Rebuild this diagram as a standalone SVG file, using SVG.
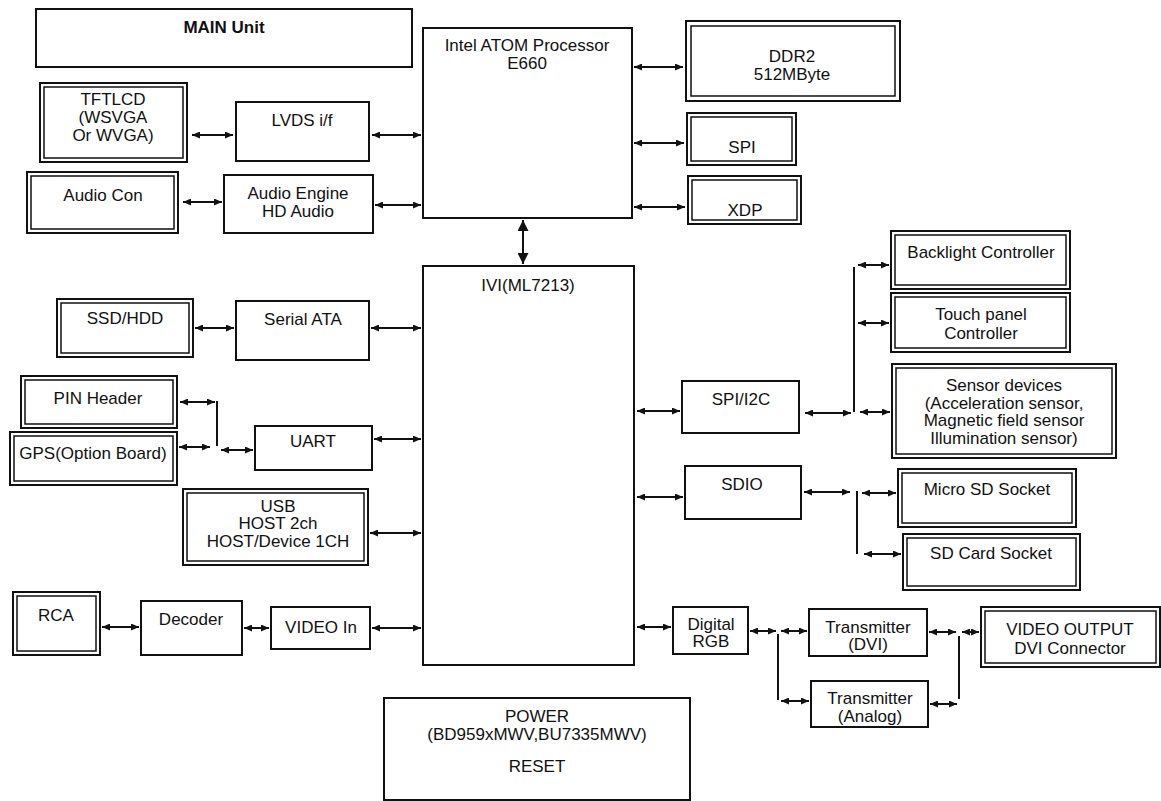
<svg xmlns="http://www.w3.org/2000/svg" width="1161" height="801" viewBox="0 0 1161 801">
<defs>
<style>
.b{fill:#fff;stroke:#111;stroke-width:2}
.i{fill:none;stroke:#111;stroke-width:1.5}
.t{font-family:"Liberation Sans",Arial,sans-serif;font-size:17px;text-anchor:middle;fill:#111}
.c{stroke:#111;stroke-width:2;fill:none}
.a{marker-start:url(#ah);marker-end:url(#ah)}
</style>
<marker id="ah" viewBox="0 0 8 7" refX="8" refY="3.5" markerWidth="8" markerHeight="7" markerUnits="userSpaceOnUse" orient="auto-start-reverse"><path d="M0,0 L8,3.5 L0,7 z" fill="#111"/></marker>
<marker id="ahb" viewBox="0 0 10 10" refX="10" refY="5" markerWidth="11" markerHeight="11" markerUnits="userSpaceOnUse" orient="auto-start-reverse"><path d="M0,0 L10,5 L0,10 z" fill="#111"/></marker>
</defs>
<rect width="1161" height="801" fill="#fff"/>

<g id="main-unit"><rect class="b" x="36" y="9" width="376" height="58"/><text class="t" x="224" y="33" font-weight="bold" font-size="18">MAIN Unit</text></g>

<g id="tftlcd"><rect class="b" x="40" y="83" width="147" height="79"/><rect class="i" x="44" y="87" width="139" height="71"/><text class="t" font-size="18" x="113" y="105">TFTLCD</text><text class="t" font-size="18" x="113" y="123">(WSVGA</text><text class="t" font-size="18" x="113" y="141">Or WVGA)</text></g>
<g id="lvds"><rect class="b" x="236" y="102" width="133" height="59"/><text class="t" font-size="18" x="302" y="126">LVDS i/f</text></g>
<g id="audio-con"><rect class="b" x="27" y="172" width="151" height="61"/><rect class="i" x="31" y="176" width="143" height="53"/><text class="t" x="103" y="201">Audio Con</text></g>
<g id="audio-engine"><rect class="b" x="224" y="175" width="149" height="58"/><text class="t" x="298" y="199">Audio Engine</text><text class="t" x="298" y="217">HD Audio</text></g>

<g id="cpu"><rect class="b" x="423" y="28" width="209" height="190"/><text class="t" font-size="17.5" x="527" y="51">Intel ATOM Processor</text><text class="t" font-size="17.5" x="527" y="69">E660</text></g>
<g id="ddr2"><rect class="b" x="686" y="21" width="214" height="80"/><rect class="i" x="691" y="26" width="204" height="70"/><text class="t" x="792" y="62">DDR2</text><text class="t" x="792" y="80">512MByte</text></g>
<g id="spi"><rect class="b" x="687" y="113" width="109" height="52"/><rect class="i" x="691" y="117" width="101" height="44"/><text class="t" x="742" y="153">SPI</text></g>
<g id="xdp"><rect class="b" x="688" y="176" width="113" height="48"/><rect class="i" x="692" y="180" width="105" height="40"/><text class="t" x="745" y="216">XDP</text></g>

<g id="ivi"><rect class="b" x="423" y="266" width="211" height="399"/><text class="t" x="528" y="291">IVI(ML7213)</text></g>

<g id="ssd"><rect class="b" x="57" y="299" width="136" height="58"/><rect class="i" x="61" y="303" width="128" height="50"/><text class="t" font-size="18" x="125" y="324">SSD/HDD</text></g>
<g id="sata"><rect class="b" x="236" y="301" width="133" height="59"/><text class="t" x="303" y="325">Serial ATA</text></g>
<g id="pin-header"><rect class="b" x="21" y="376" width="156" height="52"/><rect class="i" x="25" y="380" width="148" height="44"/><text class="t" x="98" y="404">PIN Header</text></g>
<g id="gps"><rect class="b" x="10" y="432" width="167" height="53"/><rect class="i" x="14" y="436" width="159" height="45"/><text class="t" x="93" y="459">GPS(Option Board)</text></g>
<g id="uart"><rect class="b" x="255" y="426" width="117" height="44"/><text class="t" x="313" y="447">UART</text></g>
<g id="usb"><rect class="b" x="183" y="489" width="185" height="76"/><rect class="i" x="187" y="493" width="177" height="68"/><text class="t" x="278" y="512">USB</text><text class="t" x="278" y="529">HOST 2ch</text><text class="t" x="278" y="547">HOST/Device 1CH</text></g>

<g id="spi-i2c"><rect class="b" x="682" y="381" width="117" height="52"/><text class="t" x="741" y="405">SPI/I2C</text></g>
<g id="backlight"><rect class="b" x="891" y="231" width="179" height="58"/><rect class="i" x="895" y="235" width="171" height="50"/><text class="t" x="981" y="258">Backlight Controller</text></g>
<g id="touch"><rect class="b" x="891" y="293" width="179" height="59"/><rect class="i" x="895" y="297" width="171" height="51"/><text class="t" x="981" y="320">Touch panel</text><text class="t" x="981" y="339">Controller</text></g>
<g id="sensor"><rect class="b" x="892" y="364" width="224" height="94"/><rect class="i" x="896" y="368" width="216" height="86"/><text class="t" font-size="17.5" x="1004" y="391">Sensor devices</text><text class="t" font-size="17.5" x="1004" y="408.5">(Acceleration sensor,</text><text class="t" font-size="17.5" x="1004" y="426">Magnetic field sensor</text><text class="t" font-size="17.5" x="1004" y="443.5">Illumination sensor)</text></g>
<g id="sdio"><rect class="b" x="685" y="466" width="116" height="53"/><text class="t" x="742" y="490">SDIO</text></g>
<g id="microsd"><rect class="b" x="898" y="469" width="178" height="58"/><rect class="i" x="902" y="473" width="170" height="50"/><text class="t" x="987" y="495">Micro SD Socket</text></g>
<g id="sdcard"><rect class="b" x="903" y="534" width="177" height="56"/><rect class="i" x="907" y="538" width="169" height="48"/><text class="t" x="991" y="559">SD Card Socket</text></g>

<g id="rca"><rect class="b" x="13" y="592" width="87" height="63"/><rect class="i" x="17" y="596" width="79" height="55"/><text class="t" x="56" y="621">RCA</text></g>
<g id="decoder"><rect class="b" x="141" y="601" width="101" height="54"/><text class="t" x="191" y="625">Decoder</text></g>
<g id="video-in"><rect class="b" x="271" y="607" width="99" height="42"/><text class="t" x="321" y="633">VIDEO In</text></g>
<g id="digital-rgb"><rect class="b" x="673" y="607" width="75" height="47"/><text class="t" x="711" y="630">Digital</text><text class="t" x="711" y="647">RGB</text></g>
<g id="tx-dvi"><rect class="b" x="809" y="609" width="118" height="47"/><text class="t" x="868" y="633">Transmitter</text><text class="t" x="868" y="650">(DVI)</text></g>
<g id="tx-analog"><rect class="b" x="811" y="681" width="117" height="46"/><text class="t" x="870" y="704">Transmitter</text><text class="t" x="870" y="722">(Analog)</text></g>
<g id="video-output"><rect class="b" x="981" y="607" width="179" height="60"/><rect class="i" x="985" y="611" width="171" height="52"/><text class="t" x="1070" y="635">VIDEO OUTPUT</text><text class="t" x="1070" y="654">DVI Connector</text></g>
<g id="power"><rect class="b" x="384" y="698" width="306" height="102"/><text class="t" font-size="16" x="537" y="722">POWER</text><text class="t" font-size="16" x="537" y="740">(BD959xMWV,BU7335MWV)</text><text class="t" font-size="16" x="537" y="772">RESET</text></g>

<g id="connectors">
<line class="c a" x1="192" y1="135" x2="233" y2="135"/>
<line class="c a" x1="372" y1="135" x2="421" y2="135"/>
<line class="c a" x1="183" y1="202" x2="222" y2="202"/>
<line class="c a" x1="375" y1="205" x2="421" y2="205"/>
<line class="c a" x1="634" y1="67" x2="683" y2="67"/>
<line class="c a" x1="634" y1="143" x2="684" y2="143"/>
<line class="c a" x1="634" y1="207" x2="685" y2="207"/>
<line class="c" stroke-width="4" x1="523" y1="220" x2="523" y2="264" marker-start="url(#ahb)" marker-end="url(#ahb)"/>
<line class="c a" x1="195" y1="328" x2="234" y2="328"/>
<line class="c a" x1="371" y1="328" x2="421" y2="328"/>
<line class="c a" x1="180" y1="402" x2="215" y2="402"/>
<line class="c" x1="217" y1="401" x2="217" y2="446"/>
<line class="c a" x1="179" y1="447" x2="210" y2="447"/>
<line class="c a" x1="221" y1="450" x2="253" y2="450"/>
<line class="c a" x1="374" y1="439" x2="421" y2="439"/>
<line class="c a" x1="370" y1="533" x2="421" y2="533"/>
<line class="c a" x1="102" y1="627" x2="139" y2="627"/>
<line class="c a" x1="244" y1="628" x2="269" y2="628"/>
<line class="c a" stroke-width="2.5" x1="372" y1="628" x2="421" y2="628"/>
<line class="c a" x1="637" y1="411" x2="680" y2="411"/>
<line class="c a" x1="805" y1="413" x2="851" y2="413"/>
<line class="c" x1="854" y1="267" x2="854" y2="412"/>
<line class="c a" x1="858" y1="265" x2="889" y2="265"/>
<line class="c a" x1="858" y1="323" x2="889" y2="323"/>
<line class="c a" x1="860" y1="412" x2="890" y2="412"/>
<line class="c a" x1="637" y1="497" x2="683" y2="497"/>
<line class="c a" x1="804" y1="492" x2="850" y2="492"/>
<line class="c" x1="857" y1="491" x2="857" y2="554"/>
<line class="c a" x1="862" y1="493" x2="896" y2="493"/>
<line class="c a" x1="864" y1="554" x2="901" y2="554"/>
<line class="c a" x1="637" y1="627" x2="671" y2="627"/>
<line class="c a" x1="750" y1="631" x2="776" y2="631"/>
<line class="c" x1="778" y1="634" x2="778" y2="700"/>
<line class="c a" x1="781" y1="631" x2="807" y2="631"/>
<line class="c a" x1="781" y1="701" x2="809" y2="701"/>
<line class="c a" x1="929" y1="632" x2="956" y2="632"/>
<line class="c a" x1="930" y1="704" x2="957" y2="704"/>
<line class="c" x1="959" y1="636" x2="959" y2="699"/>
<line class="c a" x1="962" y1="632" x2="979" y2="632"/>
</g>
</svg>
